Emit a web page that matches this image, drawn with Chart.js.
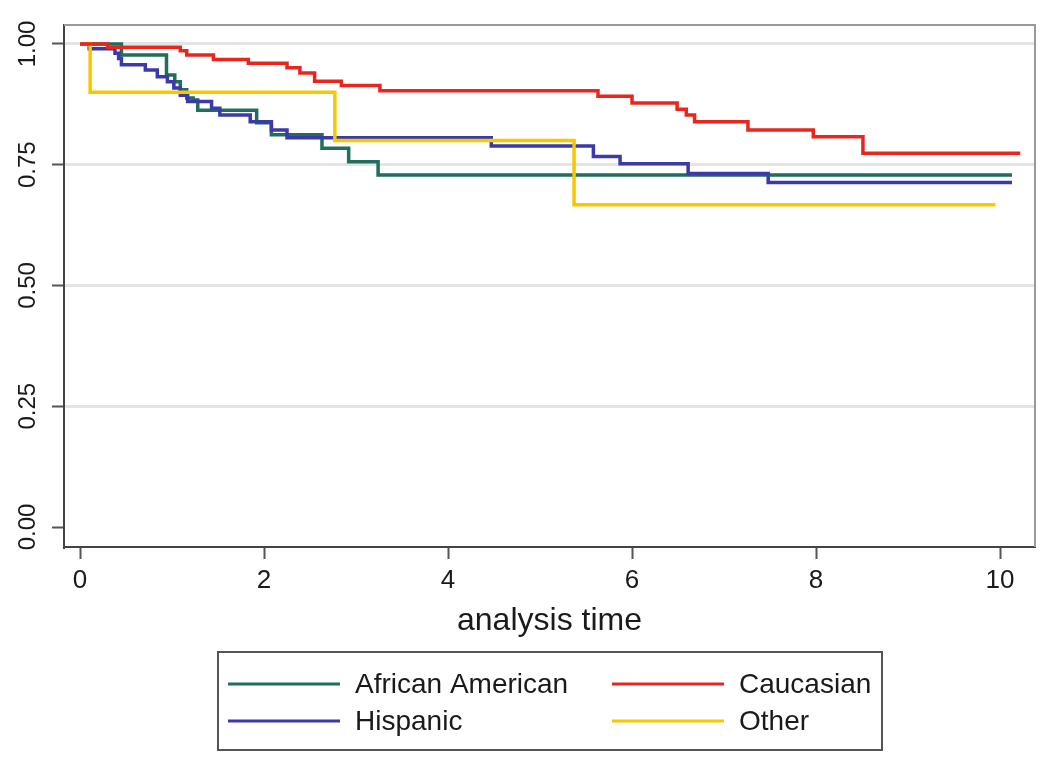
<!DOCTYPE html>
<html>
<head>
<meta charset="utf-8">
<script src="https://cdn.jsdelivr.net/npm/chart.js@4/dist/chart.umd.min.js"></script>
<style>
  html, body { margin: 0; padding: 0; background: #fff; }
  #wrap { width: 1050px; height: 765px; }
</style>
</head>
<body>
<div id="wrap"><canvas id="c" width="1050" height="765"></canvas></div>
<script>
// ---- Data (Kaplan-Meier step curves: time of each step, survival after step) ----
const seriesLabels = ["African American", "Caucasian", "Hispanic", "Other"];

const afrAmTime = [0, 0.45, 0.94, 1.03, 1.09, 1.16, 1.23, 1.28, 1.92, 2.08, 2.63, 2.92, 3.24, 10.13];
const afrAmSurv = [1.0, 0.977, 0.936, 0.922, 0.905, 0.888, 0.884, 0.863, 0.837, 0.812, 0.784, 0.756, 0.729, 0.729];

const caucTime = [0, 0.3, 1.09, 1.16, 1.45, 1.83, 2.25, 2.39, 2.55, 2.84, 3.26, 5.63, 6.0, 6.49, 6.59, 6.68, 7.26, 7.97, 8.51, 10.22];
const caucSurv = [1.0, 0.993, 0.986, 0.977, 0.968, 0.960, 0.951, 0.940, 0.923, 0.914, 0.903, 0.892, 0.878, 0.865, 0.853, 0.839, 0.822, 0.808, 0.774, 0.774];

const hispTime = [0, 0.1, 0.38, 0.42, 0.45, 0.71, 0.84, 0.95, 1.02, 1.09, 1.17, 1.43, 1.52, 1.85, 2.08, 2.25, 4.47, 5.58, 5.87, 6.61, 7.48, 10.13];
const hispSurv = [1.0, 0.990, 0.981, 0.970, 0.957, 0.946, 0.932, 0.922, 0.909, 0.894, 0.881, 0.867, 0.853, 0.839, 0.822, 0.806, 0.789, 0.767, 0.752, 0.732, 0.713, 0.713];

const otherTime = [0, 0.11, 2.77, 5.37, 9.95];
const otherSurv = [1.0, 0.9, 0.8, 0.667, 0.667];

const xTickValues = [0, 2, 4, 6, 8, 10];
const yTickValues = [0, 0.25, 0.5, 0.75, 1.0];
const xTitle = "analysis time";

// ---- Styling ----
const colors = ["#1f6e5e", "#e8261e", "#3b3aa8", "#f7c700"];
const pts = (t, s) => t.map((v, i) => ({ x: v, y: s[i] }));
const seriesData = [pts(afrAmTime, afrAmSurv), pts(caucTime, caucSurv), pts(hispTime, hispSurv), pts(otherTime, otherSurv)];
const drawOrder = [3, 0, 2, 1];

const datasets = seriesLabels.map((lab, i) => ({
  label: lab,
  data: seriesData[i],
  borderColor: colors[i],
  backgroundColor: colors[i],
  borderWidth: 3.5,
  pointRadius: 0,
  stepped: true,
  fill: false,
  order: drawOrder[i]
}));

const frameAndLegend = {
  id: 'frameAndLegend',
  beforeDatasetsDraw(chart) {
    const { ctx, chartArea: a } = chart;
    ctx.save();
    ctx.strokeStyle = '#9a9a9a';
    ctx.lineWidth = 2;
    ctx.beginPath();
    ctx.moveTo(a.left, a.top); ctx.lineTo(a.right, a.top); ctx.lineTo(a.right, a.bottom);
    ctx.stroke();
    ctx.restore();
  },
  afterDraw(chart) {
    const { ctx } = chart;
    ctx.save();
    ctx.strokeStyle = '#555';
    ctx.lineWidth = 2;
    ctx.strokeRect(218, 652, 664, 98);
    ctx.font = '28px "Liberation Sans", Arial, sans-serif';
    ctx.fillStyle = '#1a1a1a';
    ctx.textBaseline = 'middle';
    ctx.textAlign = 'left';
    const colX = [228, 612], rowY = [684, 721];
    chart.data.datasets.forEach((ds, i) => {
      const cx = colX[i % 2], cy = rowY[Math.floor(i / 2)];
      ctx.strokeStyle = ds.borderColor;
      ctx.lineWidth = 3;
      ctx.beginPath(); ctx.moveTo(cx, cy); ctx.lineTo(cx + 112, cy); ctx.stroke();
      ctx.fillText(ds.label, cx + 127, cy + 1);
    });
    ctx.restore();
  }
};

new Chart(document.getElementById('c'), {
  type: 'line',
  data: { datasets },
  plugins: [frameAndLegend],
  options: {
    responsive: false,
    animation: false,
    devicePixelRatio: 1,
    layout: { padding: { top: 25, right: 15, left: 0, bottom: 0 } },
    plugins: { legend: { display: false }, tooltip: { enabled: false } },
    scales: {
      x: {
        type: 'linear',
        min: -0.174, max: 10.38,
        afterBuildTicks: s => { s.ticks = xTickValues.map(v => ({ value: v })); },
        afterFit: s => { s.height = 765 - 547; },
        ticks: { callback: v => String(v), font: { size: 26, family: '"Liberation Sans", Arial, sans-serif' }, color: '#1a1a1a', padding: 6, maxRotation: 0, autoSkip: false },
        grid: { drawOnChartArea: false, tickLength: 12, tickColor: '#555', tickWidth: 2 },
        border: { display: true, color: '#444', width: 2 },
        title: { display: true, text: xTitle, font: { size: 32, family: '"Liberation Sans", Arial, sans-serif' }, color: '#1a1a1a', padding: { top: 0, bottom: 125 } }
      },
      y: {
        type: 'linear',
        min: -0.0414, max: 1.0393,
        afterBuildTicks: s => { s.ticks = yTickValues.map(v => ({ value: v })); },
        afterFit: s => { s.width = 64; },
        ticks: { callback: v => Number(v).toFixed(2), font: { size: 24, family: '"Liberation Sans", Arial, sans-serif' }, color: '#1a1a1a', padding: 0, minRotation: 90, maxRotation: 90, crossAlign: 'center', autoSkip: false },
        grid: {
          color: c => (c.tick && c.tick.value === 0) ? 'rgba(0,0,0,0)' : '#e4e4e4',
          lineWidth: 3,
          tickLength: 12, tickColor: '#555', tickWidth: 2
        },
        border: { display: true, color: '#444', width: 2 }
      }
    }
  }
});
</script>
</body>
</html>
